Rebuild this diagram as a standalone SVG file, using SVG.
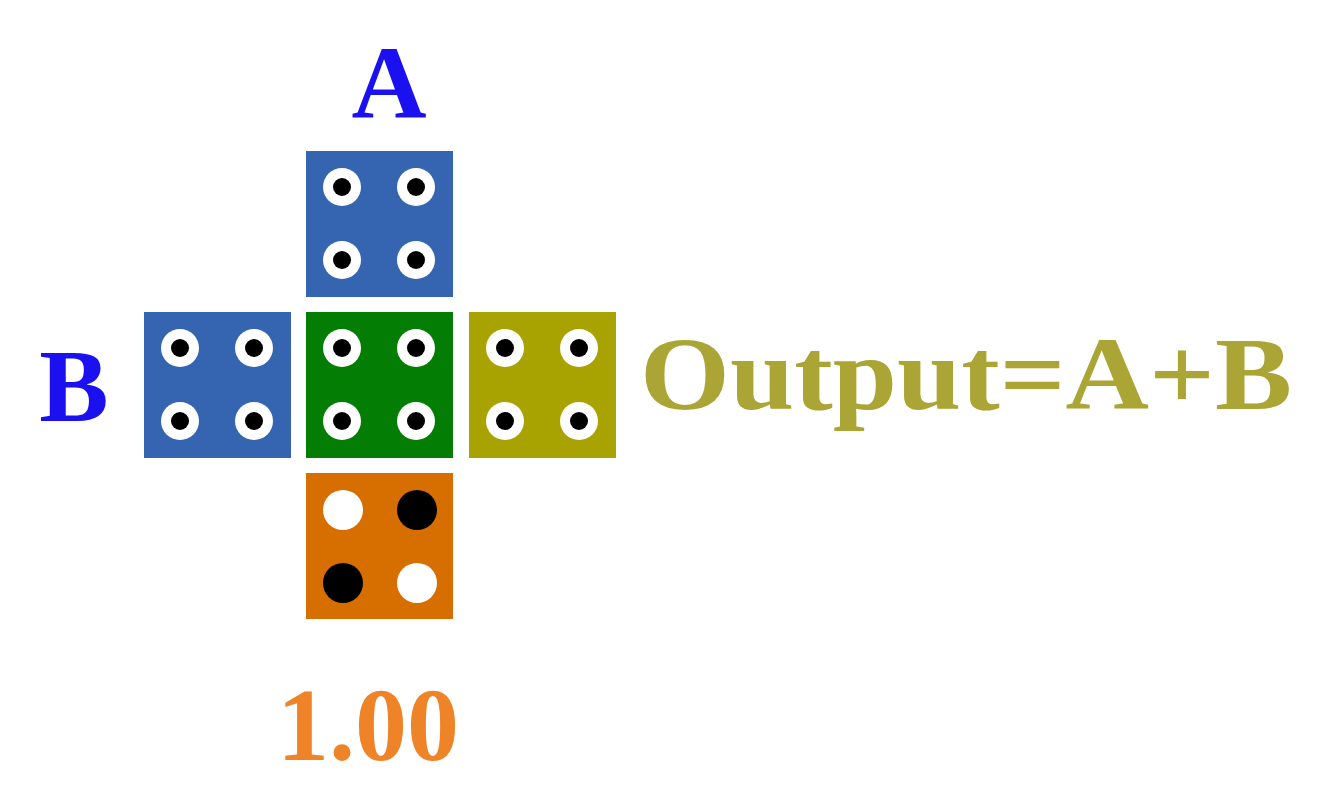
<svg xmlns="http://www.w3.org/2000/svg" width="1331" height="808" viewBox="0 0 1331 808">
<defs>
<style>
text{font-family:"Liberation Serif",serif;font-weight:bold}
.ring{fill:#fff}
.dot{fill:#000}
</style>
<g id="pins">
<circle class="ring" cx="36" cy="36" r="19"/><circle class="dot" cx="36" cy="36" r="9"/>
<circle class="ring" cx="110" cy="36" r="19"/><circle class="dot" cx="110" cy="36" r="9"/>
<circle class="ring" cx="36" cy="109" r="19"/><circle class="dot" cx="36" cy="109" r="9"/>
<circle class="ring" cx="110" cy="109" r="19"/><circle class="dot" cx="110" cy="109" r="9"/>
</g>
</defs>
<rect width="1331" height="808" fill="#fff"/>
<g id="tileA" transform="translate(306,151)"><rect width="147" height="146" fill="#3564b0"/><use href="#pins"/></g>
<g id="tileB" transform="translate(144,312)"><rect width="147" height="146" fill="#3564b0"/><use href="#pins"/></g>
<g id="tileC" transform="translate(306,312)"><rect width="147" height="146" fill="#037d03"/><use href="#pins"/></g>
<g id="tileOut" transform="translate(469,312)"><rect width="147" height="146" fill="#a8a300"/><use href="#pins"/></g>
<g id="tileBottom" transform="translate(306,473)"><rect width="147" height="146" fill="#d66e00"/>
<circle cx="37" cy="37" r="20" fill="#fff"/><circle cx="111" cy="37" r="20" fill="#000"/>
<circle cx="37" cy="110" r="20" fill="#000"/><circle cx="111" cy="110" r="20" fill="#fff"/></g>
<g id="labels">
<text x="389" y="118" font-size="104" fill="#1a10f0" text-anchor="middle">A</text>
<text x="74" y="421" font-size="104" fill="#1a10f0" text-anchor="middle">B</text>
<text x="966" y="409" font-size="104" fill="#aaa535" text-anchor="middle" textLength="652" lengthAdjust="spacingAndGlyphs">Output=A+B</text>
<text x="368" y="760" font-size="104" fill="#ef8327" text-anchor="middle">1.00</text>
</g>
<g id="connectors"/>
</svg>
